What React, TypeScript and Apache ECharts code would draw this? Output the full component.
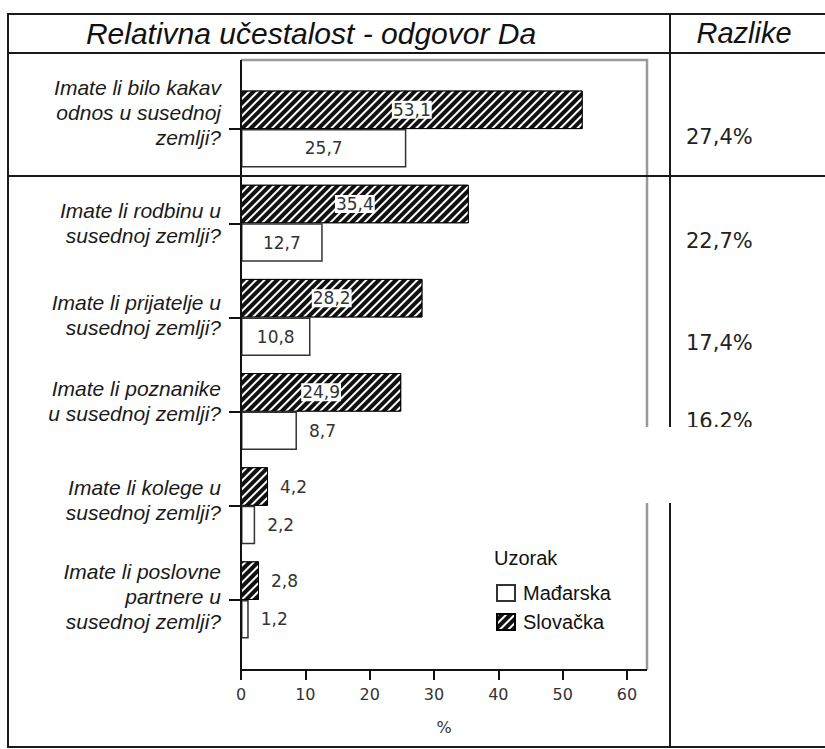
import React, { useEffect, useRef } from "react";
import * as echarts from "echarts";

const categories = [
  "Imate li bilo kakav\nodnos u susednoj\nzemlji?",
  "Imate li rodbinu u\nsusednoj zemlji?",
  "Imate li prijatelje u\nsusednoj zemlji?",
  "Imate li poznanike\nu susednoj zemlji?",
  "Imate li kolege u\nsusednoj zemlji?",
  "Imate li poslovne\npartnere u\nsusednoj zemlji?",
];
const slovackaValues = [53.1, 35.4, 28.2, 24.9, 4.2, 2.8];
const madjarskaValues = [25.7, 12.7, 10.8, 8.7, 2.2, 1.2];
const differenceLabels = ["27,4%", "22,7%", "17,4%", "16,2%"];
const xTickValues = [0, 10, 20, 30, 40, 50, 60];
const seriesNames = ["Mađarska", "Slovačka"];
const legendTitle = "Uzorak";
const chartTitle = "Relativna učestalost - odgovor Da";
const sideTitle = "Razlike";
const axisName = "%";

// styling only: upward nudge (px) of each category label block
const labelNudges = [17, 0, 2, 11, 6, 3];
const differenceY = [137, 241, 343, 421];

const fmt = (v: number) => String(v).replace(".", ",");
const VAL_FONT = "DejaVu Sans";
const TXT_FONT = "Liberation Sans";

function buildOption() {
  const insideLabel = (bg: boolean) => ({
    show: true,
    position: "inside",
    color: "#333",
    fontFamily: VAL_FONT,
    fontSize: 17,
    backgroundColor: bg ? "#fff" : "transparent",
    padding: [1, 1, 0, 1],
    formatter: (p: any) => fmt(p.value),
  });
  const outsideLabel = {
    show: true,
    position: "right",
    distance: 12,
    color: "#333",
    fontFamily: VAL_FONT,
    fontSize: 17,
    formatter: (p: any) => fmt(p.value),
  };
  const line = (x1: number, y1: number, x2: number, y2: number, color = "#1a1a1a", w = 2) => ({
    type: "line",
    silent: true,
    z: 100,
    shape: { x1, y1, x2, y2 },
    style: { stroke: color, lineWidth: w },
  });
  const xMax = xTickValues[xTickValues.length - 1];

  const rich: Record<string, any> = {};
  labelNudges.forEach((n, i) => {
    rich["sp" + i] = { lineHeight: Math.max(1, 2 * n), fontSize: 1 };
  });

  return {
    animation: false,
    backgroundColor: "#fff",
    grid: { left: 241, right: 198, top: 82, height: 565, containLabel: false },
    legend: {
      orient: "vertical",
      left: 491,
      top: 578,
      data: seriesNames,
      icon: "rect",
      itemWidth: 18,
      itemHeight: 16,
      itemGap: 9,
      selectedMode: false,
      textStyle: {
        fontFamily: TXT_FONT,
        fontSize: 20,
        color: "#111",
        padding: [0, 0, 0, 3],
      },
    },
    xAxis: {
      type: "value",
      min: xTickValues[0],
      max: xMax,
      interval: 10,
      offset: 23,
      axisLine: { show: false },
      axisTick: { show: true, length: 10, lineStyle: { color: "#111", width: 2 } },
      axisLabel: {
        margin: 16,
        fontFamily: VAL_FONT,
        fontSize: 16,
        color: "#333",
      },
      splitLine: { show: false },
      name: axisName,
      nameLocation: "middle",
      nameGap: 49,
      nameTextStyle: {
        fontFamily: VAL_FONT,
        fontSize: 16,
        color: "#333",
        padding: [0, 0, 0, 20],
      },
    },
    yAxis: {
      type: "category",
      inverse: true,
      data: categories,
      axisLine: { show: false },
      axisTick: { show: true, alignWithLabel: true, length: 12, lineStyle: { color: "#111", width: 2 } },
      axisLabel: {
        margin: 20,
        fontFamily: TXT_FONT,
        fontStyle: "italic",
        fontSize: 21,
        lineHeight: 25,
        color: "#1a1a1a",
        align: "right",
        formatter: (v: string, i: number) => (labelNudges[i] > 0 ? `${v}\n{sp${i}| }` : v),
        rich,
      },
      splitLine: { show: false },
    },
    series: [
      {
        name: seriesNames[1],
        type: "bar",
        barWidth: 38.5,
        barGap: "0%",
        itemStyle: {
          color: "#111",
          borderColor: "#000",
          borderWidth: 1,
          decal: {
            symbol: "rect",
            symbolSize: 1,
            dashArrayX: [1, 0],
            dashArrayY: [2, 4],
            rotation: -Math.PI / 4,
            color: "#fff",
          },
        },
        data: slovackaValues.map((v) => ({
          value: v,
          label: v >= 10 ? insideLabel(true) : outsideLabel,
        })),
      },
      {
        name: seriesNames[0],
        type: "bar",
        barWidth: 38.5,
        barGap: "0%",
        itemStyle: { color: "#fff", borderColor: "#333", borderWidth: 1.5 },
        data: madjarskaValues.map((v) => ({
          value: v,
          label: v >= 10 ? insideLabel(false) : outsideLabel,
        })),
      },
    ],
    graphic: [
      {
        type: "polyline",
        silent: true,
        z: 99,
        shape: { points: [[241, 60], [647, 60], [647, 670]] },
        style: { stroke: "#9a9a9a", lineWidth: 2.5, fill: null },
      },
      line(241, 60, 241, 670, "#111", 2),
      line(240, 670, 647, 670, "#111", 2),
      line(7, 14, 825, 14),
      line(7, 53, 825, 53),
      line(7, 176, 825, 176),
      line(7, 747, 825, 747),
      line(8, 14, 8, 748),
      line(670, 14, 670, 748),
      {
        type: "text",
        silent: true,
        z: 101,
        x: 311,
        y: 33,
        style: {
          text: chartTitle,
          fontFamily: TXT_FONT,
          fontStyle: "italic",
          fontSize: 30,
          fill: "#111",
          align: "center",
          verticalAlign: "middle",
        },
      },
      {
        type: "text",
        silent: true,
        z: 101,
        x: 744,
        y: 33,
        style: {
          text: sideTitle,
          fontFamily: TXT_FONT,
          fontStyle: "italic",
          fontSize: 29,
          fill: "#111",
          align: "center",
          verticalAlign: "middle",
        },
      },
      ...differenceLabels.map((t, i) => ({
        type: "text",
        silent: true,
        z: 101,
        x: 686,
        y: differenceY[i],
        style: {
          text: t,
          fontFamily: VAL_FONT,
          fontSize: 21,
          fill: "#222",
          align: "left",
          verticalAlign: "middle",
        },
      })),
      {
        type: "text",
        silent: true,
        z: 101,
        x: 494,
        y: 558,
        style: {
          text: legendTitle,
          fontFamily: TXT_FONT,
          fontSize: 20,
          fill: "#111",
          align: "left",
          verticalAlign: "middle",
        },
      },
      {
        type: "rect",
        silent: true,
        z: 120,
        shape: { x: 644, y: 427, width: 181, height: 76 },
        style: { fill: "#fff" },
      },
    ],
  };
}

export default function App() {
  const ref = useRef<HTMLDivElement>(null);
  useEffect(() => {
    document.body.style.margin = "0";
    const chart = echarts.init(ref.current as HTMLDivElement, null, { renderer: "svg" });
    chart.setOption(buildOption() as any);
    return () => chart.dispose();
  }, []);
  return <div ref={ref} style={{ width: 825, height: 749, background: "#fff" }} />;
}
